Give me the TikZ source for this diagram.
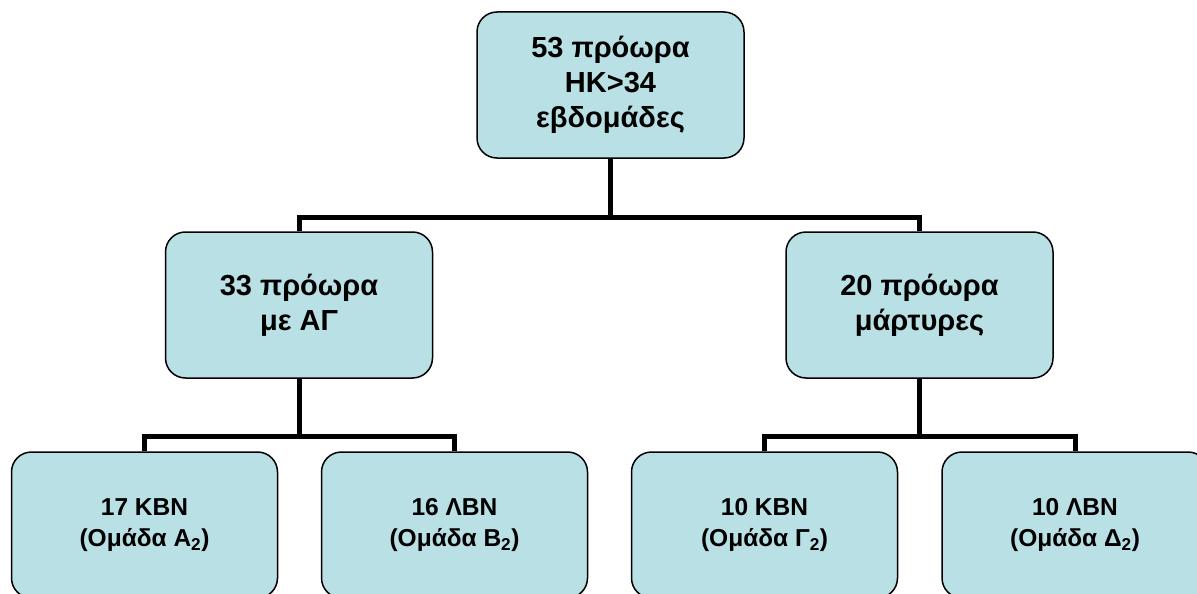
\documentclass[tikz,border=0pt]{standalone}
\usepackage{fontspec}
\setmainfont{Liberation Sans}
\definecolor{boxfill}{RGB}{185,224,228}
\begin{document}
\begin{tikzpicture}[x=1pt,y=-1pt,
  box/.style={draw=black, line width=1.5pt, fill=boxfill, rounded corners=20pt,
    minimum width=267pt, minimum height=146pt, align=center, inner sep=0pt},
  bigtext/.style={font=\fontsize{29}{35}\selectfont\bfseries},
  smalltext/.style={font=\fontsize{24.5}{31}\selectfont\bfseries},
  conn/.style={draw=black, line width=5pt, line join=miter}]
\useasboundingbox (0,0) rectangle (1197,594);
\clip (0,0) rectangle (1197,594);
\node[box,bigtext] (top) at (610.5,85) {53 πρόωρα\\ΗΚ>34\\εβδομάδες};
\node[box,bigtext] (midL) at (299,305) {33 πρόωρα\\με ΑΓ};
\node[box,bigtext] (midR) at (919.5,305) {20 πρόωρα\\μάρτυρες};
\node[box,smalltext,minimum width=266pt] (b1) at (144.5,525) {17 ΚΒΝ\\(Ομάδα Α\textsubscript{2})};
\node[box,smalltext,minimum width=266pt] (b2) at (454.5,525) {16 ΛΒΝ\\(Ομάδα Β\textsubscript{2})};
\node[box,smalltext,minimum width=266pt] (b3) at (764.5,525) {10 ΚΒΝ\\(Ομάδα Γ\textsubscript{2})};
\node[box,smalltext,minimum width=266pt] (b4) at (1075,525) {10 ΛΒΝ\\(Ομάδα Δ\textsubscript{2})};
\coordinate (j1) at (top.south |- 0,217);
\coordinate (j2) at (midL.south |- 0,436);
\coordinate (j3) at (midR.south |- 0,436);
\draw[conn] (top.south) -- (j1);
\draw[conn] (midL.north) |- (j1) -| (midR.north);
\draw[conn] (midL.south) -- (j2);
\draw[conn] (b1.north) |- (j2) -| (b2.north);
\draw[conn] (midR.south) -- (j3);
\draw[conn] (b3.north) |- (j3) -| (b4.north);
\end{tikzpicture}
\end{document}
